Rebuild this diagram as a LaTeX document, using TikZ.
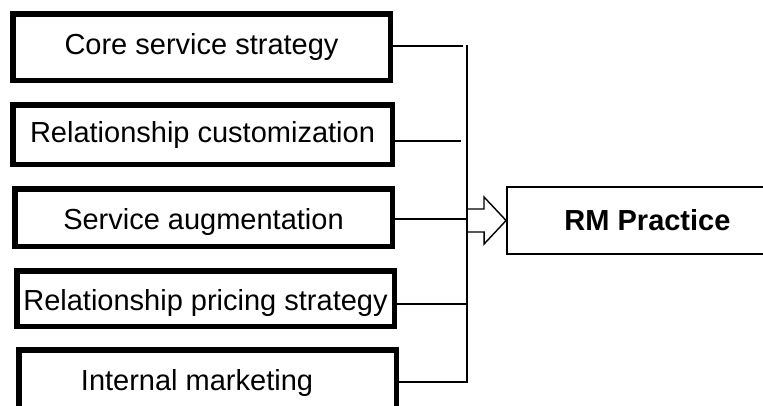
\documentclass[tikz,border=0pt]{standalone}
\usepackage{fontspec}
\setmainfont{Liberation Sans}
\usetikzlibrary{positioning}
\tikzset{>=stealth}
\tikzset{
  factor/.style={draw,line width=5.5pt,minimum width=377.5pt,inner sep=0pt,
    font=\fontsize{29}{35}\selectfont,text height=21pt,text depth=6pt},
  lowtext/.style={text height=25pt,text depth=2pt},
  practice/.style={draw,line width=1.8pt,minimum width=281pt,minimum height=67pt,
    inner sep=0pt,font=\fontsize{29}{35}\selectfont\bfseries},
  link/.style={line width=1.4pt}
}

\begin{document}
\begin{tikzpicture}[x=1pt,y=-1pt]
        \useasboundingbox (0,0) rectangle (763,405);
        \coordinate (bustop) at (467,45);
        \coordinate (busbot) at (467,382);

        \node[factor,minimum height=66.5pt] (core) at (201.5,47) {Core service strategy};
        \node[factor,minimum height=59.5pt,minimum width=379.5pt] (custom) at (202.5,134.5) {Relationship customization};
        \node[factor,lowtext,minimum height=57.5pt] (service) at (203.5,217.5) {Service augmentation};
        \node[factor,lowtext,minimum height=55.5pt] (pricing) at (205.5,298.5) {Relationship pricing strategy};
        \node[factor,minimum height=66.5pt] (internal) at (207.5,383) {Internal marketing\hspace*{21pt}};
        \node[practice] (rm) at (647.5,220.5) {RM Practice};

	\draw[link] ([yshift=1pt]core.east) -- ++(70,0);
        \draw[link] ([yshift=-6.5pt]custom.east) -- ++(66,0);
        \draw[link] ([yshift=-1.5pt]service.east) -- ++(72,0);
        \draw[link] ([yshift=-5.5pt]pricing.east) -- ++(70,0);
        \draw[link] (bustop) -- (busbot) -- (busbot -| internal.east);
        % open arrow into the practice box
        \draw[link] (bustop |- rm.west) ++(0,-11.5) -- ++(17,0) -- ++(0,-12)
          -- (rm.west) -- ++(-22,23.5) -- ++(0,-12) -- ++(-17,0);
    \end{tikzpicture}
\end{document}
